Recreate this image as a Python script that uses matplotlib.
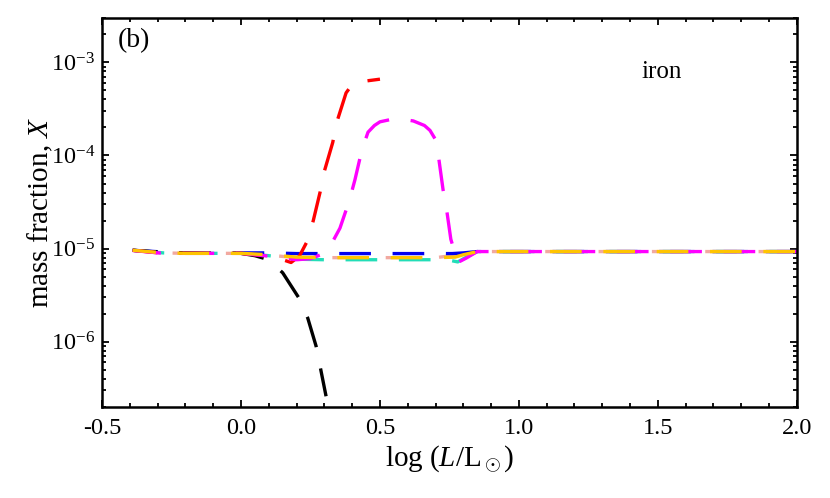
import numpy as np
import matplotlib
matplotlib.use('Agg')
import matplotlib.pyplot as plt
from matplotlib.ticker import MultipleLocator, LogLocator, NullFormatter

plt.rcParams['font.family'] = ['Liberation Serif', 'DejaVu Serif']
plt.rcParams['mathtext.fontset'] = 'custom'
plt.rcParams['mathtext.rm'] = 'Liberation Serif'
plt.rcParams['mathtext.it'] = 'Liberation Serif:italic'

# iron mass fraction vs log L
black_x = [-0.39, -0.28, -0.2, -0.1, 0.0, 0.05, 0.1, 0.15, 0.21, 0.24, 0.27, 0.306]
black_y = [9.6e-6, 9.1e-6, 9.0e-6, 8.9e-6, 8.9e-6, 8.4e-6, 7.6e-6, 5.5e-6, 2.9e-6, 1.8e-6, 9.0e-7, 2.6e-7]

red_x = [-0.39, -0.28, -0.2, -0.1, 0.0, 0.1, 0.15, 0.18, 0.21, 0.24, 0.26, 0.285,
         0.30, 0.33, 0.345, 0.378, 0.40, 0.43, 0.5]
red_y = [9.6e-6, 8.9e-6, 8.9e-6, 8.9e-6, 8.9e-6, 8.3e-6, 7.6e-6, 7.1e-6, 8.3e-6, 1.23e-5,
         2.0e-5, 4.1e-5, 6.8e-5, 1.38e-4, 2.3e-4, 4.7e-4, 5.8e-4, 6.2e-4, 6.6e-4]

magenta_x = [-0.39, -0.28, -0.2, -0.1, 0.0, 0.1, 0.2, 0.25, 0.3, 0.32, 0.356, 0.39, 0.41,
             0.435, 0.457, 0.48, 0.5, 0.543, 0.58, 0.62, 0.66, 0.68, 0.70, 0.712, 0.727,
             0.74, 0.755, 0.78, 0.81, 0.85, 1.0, 1.5, 2.0]
magenta_y = [9.55e-6, 8.9e-6, 8.9e-6, 8.9e-6, 8.9e-6, 8.3e-6, 7.6e-6, 7.8e-6, 8.9e-6, 1.05e-5,
             1.66e-5, 3.3e-5, 5.5e-5, 1.15e-4, 1.78e-4, 2.1e-4, 2.3e-4, 2.45e-4, 2.45e-4,
             2.35e-4, 2.1e-4, 1.86e-4, 1.48e-4, 9.1e-5, 4.3e-5, 2.6e-5, 1.26e-5, 7.1e-6,
             7.9e-6, 9.3e-6, 9.3e-6, 9.3e-6, 9.3e-6]

blue_x = [-0.39, -0.28, -0.2, -0.1, 0.0, 0.1, 0.2, 0.3, 0.5, 0.7, 0.76, 0.8, 0.85, 1.0, 1.5, 2.0]
blue_y = [9.6e-6, 9.2e-6, 9.0e-6, 8.9e-6, 9.0e-6, 9.0e-6, 8.85e-6, 8.85e-6, 8.85e-6, 8.85e-6,
          8.85e-6, 9.0e-6, 9.3e-6, 9.3e-6, 9.3e-6, 9.3e-6]

yellow_x = [-0.39, -0.28, -0.2, -0.1, 0.0, 0.1, 0.2, 0.3, 0.5, 0.7, 0.77, 0.8, 0.85, 1.0, 1.5, 2.0]
yellow_y = [9.6e-6, 9.0e-6, 8.9e-6, 8.9e-6, 8.9e-6, 8.6e-6, 8.1e-6, 8.0e-6, 8.0e-6, 8.0e-6,
            8.1e-6, 8.6e-6, 9.3e-6, 9.3e-6, 9.3e-6, 9.3e-6]

cyan_x = [-0.39, -0.28, -0.2, -0.1, 0.0, 0.1, 0.2, 0.3, 0.5, 0.7, 0.75, 0.78, 0.82, 0.85, 1.0, 1.5, 2.0]
cyan_y = [9.6e-6, 9.0e-6, 8.9e-6, 8.9e-6, 8.9e-6, 8.4e-6, 7.7e-6, 7.6e-6, 7.6e-6, 7.6e-6,
          7.5e-6, 7.2e-6, 8.4e-6, 9.3e-6, 9.3e-6, 9.3e-6, 9.3e-6]

peach_x = [-0.39, -0.28, -0.2, -0.1, 0.0, 0.1, 0.2, 0.3, 0.5, 0.7, 0.8, 0.85, 1.0, 1.5, 2.0]
peach_y = [9.6e-6, 9.0e-6, 8.9e-6, 8.9e-6, 8.9e-6, 8.5e-6, 8.0e-6, 8.0e-6, 8.0e-6, 8.0e-6,
           8.7e-6, 9.3e-6, 9.3e-6, 9.3e-6, 9.3e-6]

fig = plt.figure(figsize=(8.3, 4.98), dpi=100)
ax = fig.add_axes([0.123, 0.183, 0.837, 0.781])

lw = 2.4
dash = (9.5, 6.5)
curves = [
    (peach_x, peach_y, '#F2A9A0', 4),
    (cyan_x, cyan_y, '#22DDB8', 0),
    (blue_x, blue_y, '#0000F0', 2),
    (black_x, black_y, 'black', 2),
    (red_x, red_y, '#FF0000', 2),
    (magenta_x, magenta_y, '#FF00FF', 1),
    (yellow_x, yellow_y, '#FFC400', 2.5),
]
for xs, ys, c, off in curves:
    ax.plot(xs, ys, color=c, lw=lw, linestyle=(off, dash))

ax.set_yscale('log')
ax.set_xlim(-0.5, 2.0)
ax.set_ylim(2e-7, 3e-3)

ax.xaxis.set_major_locator(MultipleLocator(0.5))
ax.xaxis.set_minor_locator(MultipleLocator(0.1))
ax.xaxis.set_major_formatter(plt.FuncFormatter(lambda v, p: f'{v:.1f}'))
ax.yaxis.set_major_locator(LogLocator(base=10, numticks=10))
ax.yaxis.set_minor_locator(LogLocator(base=10, subs=np.arange(2, 10), numticks=20))
ax.yaxis.set_minor_formatter(NullFormatter())

ax.tick_params(which='both', direction='in', top=True, right=True, width=1.3, labelsize=17.5)
ax.tick_params(which='major', length=5, pad=5)
ax.tick_params(axis='x', which='major', pad=8)
ax.tick_params(which='minor', length=3)
for s in ax.spines.values():
    s.set_linewidth(1.8)

ax.set_xlabel(r'$\log\,(L/\mathrm{L}_\odot)$', fontsize=21, labelpad=3)
ax.set_ylabel(r'mass fraction, $X$', fontsize=21, labelpad=-3)

ax.text(0.023, 0.975, '(b)', transform=ax.transAxes, fontsize=20, va='top', ha='left')
ax.text(0.776, 0.89, 'iron', transform=ax.transAxes, fontsize=18, va='top', ha='left')

fig.savefig('out.png', dpi=100)
